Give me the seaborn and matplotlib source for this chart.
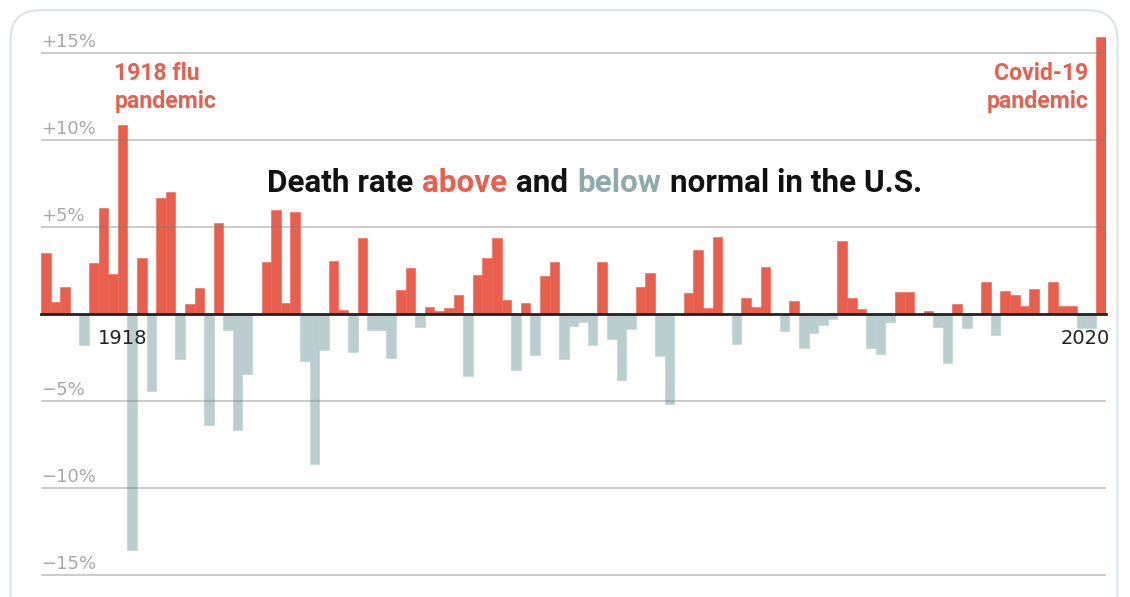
import matplotlib.pyplot as plt
import matplotlib.patches as mpatches
import matplotlib.transforms as mtransforms
import numpy as np
import pandas as pd
import seaborn as sns

# excess death rate vs. normal, %, one value per year
years = list(range(1910, 2021))
excess = [
    3.49, 0.72, 1.55, 0.0, -1.80, 2.91, 6.07, 2.29, 10.86, -13.58,     # 1910s
    3.20, -4.42, 6.65, 7.02, -2.56, 0.58, 1.51, -6.36, 5.24, -0.93,    # 1920s
    -6.69, -3.45, 0.0, 2.99, 5.97, 0.66, 5.86, -2.72, -8.63, -2.06,    # 1930s
    3.06, 0.23, -2.19, 4.38, -0.92, -0.92, -2.50, 1.38, 2.62, -0.74,   # 1940s
    0.40, 0.20, 0.33, 1.08, -3.55, 2.23, 3.22, 4.36, 0.78, -3.20,      # 1950s
    0.62, -2.33, 2.17, 2.98, -2.56, -0.67, -0.44, -1.78, 3.00, -1.44,  # 1960s
    -3.79, -0.86, 1.56, 2.34, -2.40, -5.20, 0.0, 1.20, 3.68, 0.33,     # 1970s
    4.42, 0.0, -1.74, 0.91, 0.43, 2.71, 0.0, -1.00, 0.75, -1.95,       # 1980s
    -1.08, -0.65, -0.30, 4.19, 0.90, 0.28, -1.94, -2.27, -0.48, 1.24,  # 1990s
    1.24, 0.0, 0.19, -0.76, -2.82, 0.55, -0.81, 0.0, 1.86, -1.20,      # 2000s
    1.32, 1.07, 0.49, 1.45, 0.0, 1.86, 0.49, 0.49, -0.78, -0.78,       # 2010s
    15.93,                                                             # 2020
]
grid_levels = [15, 10, 5, -5, -10, -15]
grid_labels = ['+15%', '+10%', '+5%', '\u22125%', '\u221210%', '\u221215%']
tick_years = [1918, 2020]

RED = '#e8604d'
GRAY = '#bacecf'
BELOW_TXT = '#8eaaab'

sns.set_style('white')
plt.rcParams['font.family'] = ['DejaVu Sans']

df = pd.DataFrame({'year': years, 'excess': excess})
df['sign'] = np.where(df['excess'] >= 0, 'above', 'below')

fig = plt.figure(figsize=(11.3, 5.97), dpi=100)
fig.patch.set_facecolor('white')

# card outline of the screenshot
card = mpatches.FancyBboxPatch((0.105, -0.5), 11.07, 6.37,
                               boxstyle='round,pad=0,rounding_size=0.3',
                               transform=fig.dpi_scale_trans,
                               fill=False, edgecolor='#dde3e6', lw=1.5)
fig.add_artist(card)

ax = fig.add_axes([41 / 1130, 20.3 / 597, 1065 / 1130, 541 / 597])

sns.barplot(data=df, x='year', y='excess', hue='sign',
            palette={'above': RED, 'below': GRAY}, dodge=False, width=1.0,
            saturation=1, errorbar=None, legend=False, ax=ax,
            linewidth=0.4, edgecolor=None)
for p in ax.patches:
    p.set_edgecolor(p.get_facecolor())

ax.set_axisbelow(False)
ax.set_xlim(-0.5, len(years) - 0.5)
ax.set_ylim(-15.1, 16.0)
ax.set_xlabel('')
ax.set_ylabel('')
ax.set_yticks([])

for s in ['left', 'right', 'top']:
    ax.spines[s].set_visible(False)
ax.spines['bottom'].set_position(('data', 0))
ax.spines['bottom'].set_color('#222222')
ax.spines['bottom'].set_linewidth(2)
ax.spines['bottom'].set_zorder(4)

tick_pos = [years.index(y) for y in tick_years]
ax.set_xticks(tick_pos, [str(y) for y in tick_years])
ax.tick_params(axis='x', length=8, width=1.8, color='#222222', labelsize=14,
               labelcolor='#222222', pad=3, direction='out')
lbl = ax.get_xticklabels()[-1]
lbl.set_transform(lbl.get_transform() + mtransforms.ScaledTranslation(-16 / 100, 0, fig.dpi_scale_trans))

for lvl, lab in zip(grid_levels, grid_labels):
    ax.axhline(lvl, color='#808080', alpha=0.4, lw=1.5, zorder=3)
    ax.annotate(lab, xy=(-0.5, lvl), xytext=(0, 1.5), textcoords='offset points',
                ha='left', va='bottom', fontsize=13, color='#a8a8a8')

# annotations
ax.text(7.15, 14.5, '1918 flu\npandemic', ha='left', va='top', fontsize=16.6,
        fontweight='bold', color=RED, family='Roboto', linespacing=1.3)
ax.text(108.7, 14.5, 'Covid-19\npandemic', ha='right', va='top', fontsize=16.6,
        fontweight='bold', color=RED, family='Roboto', linespacing=1.3,
        multialignment='right')

# multi-colour title
pieces = [('Death rate', '#111111'), ('above', RED), ('and', '#111111'),
          ('below', BELOW_TXT), ('normal in the U.S.', '#111111')]
kw = dict(fontsize=22.6, fontweight='bold', family='Roboto', va='bottom')
prev = ax.text(23.1, 6.65, pieces[0][0], color=pieces[0][1], ha='left', **kw)
for txt, col in pieces[1:]:
    prev = ax.annotate(txt, xy=(1, 0), xycoords=prev, xytext=(6.3, 0),
                       textcoords='offset points', color=col, ha='left', **kw)

fig.savefig('out.png', dpi=100)
